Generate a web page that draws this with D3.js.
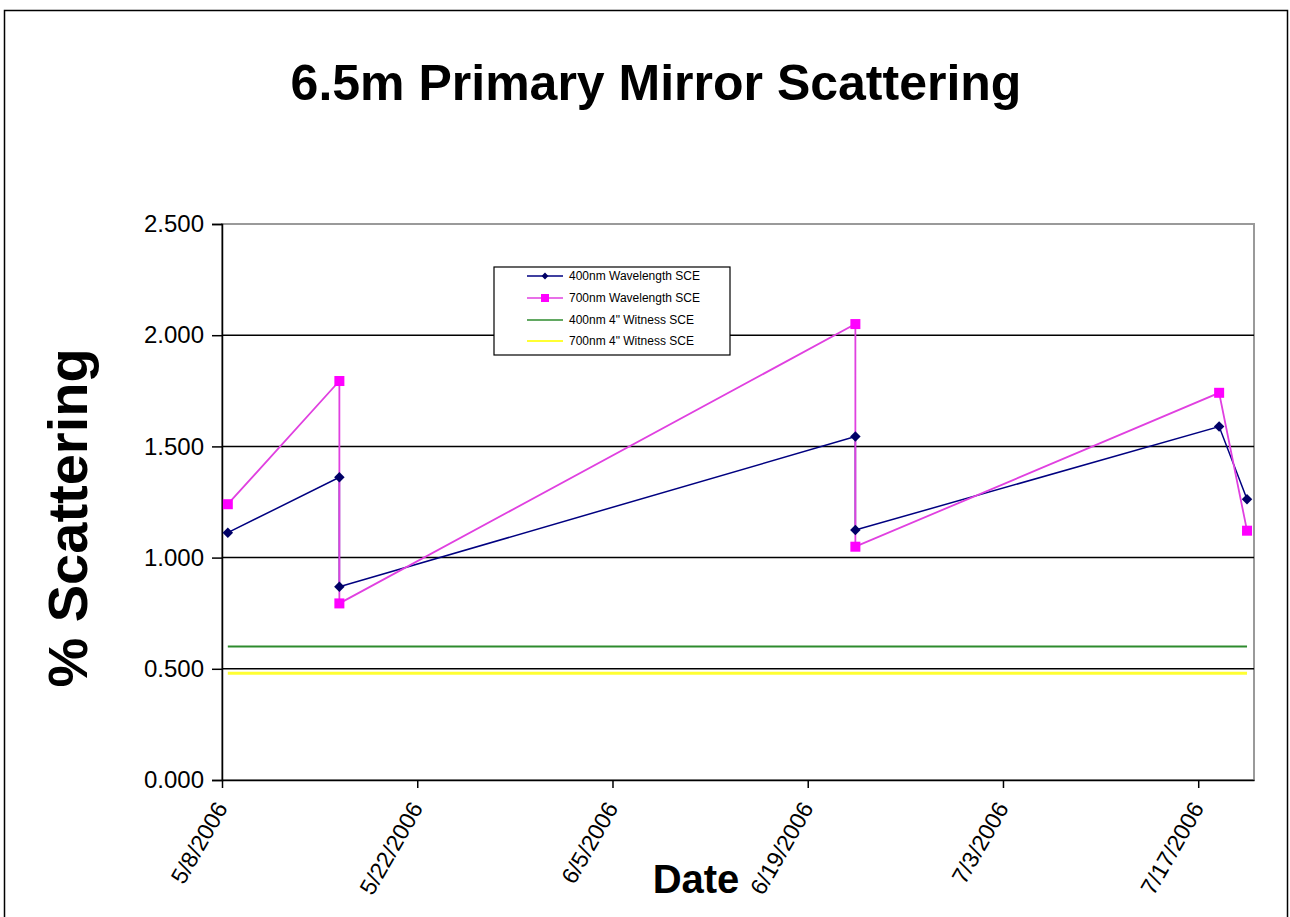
<!DOCTYPE html>
<html>
<head>
<meta charset="utf-8">
<script src="https://cdn.jsdelivr.net/npm/d3@7"></script>
<style>
  body { margin: 0; background: #fff; }
  svg { display: block; }
  text { font-family: Arial, "Liberation Sans", sans-serif; }
</style>
</head>
<body>
<svg id="chart" width="1290" height="917"></svg>
<script>
// ---- data ----
const dates = ["2006-05-08T10:00", "2006-05-16T10:00", "2006-05-16T10:00", "2006-06-22T10:00", "2006-06-22T10:00", "2006-07-18T12:00", "2006-07-20T12:00"];
const sce400 = [1.112, 1.361, 0.869, 1.544, 1.124, 1.589, 1.262];
const sce700 = [1.240, 1.794, 0.794, 2.050, 1.049, 1.741, 1.121];
const witness400 = 0.60;
const witness700 = 0.48;
const xTickDates = ["2006-05-08", "2006-05-22", "2006-06-05", "2006-06-19", "2006-07-03", "2006-07-17"];
const xDomain = ["2006-05-08", "2006-07-21"];
const yTicks = [0, 0.5, 1.0, 1.5, 2.0, 2.5];
const legendLabels = ["400nm  Wavelength SCE", "700nm  Wavelength SCE", "400nm 4\" Witness SCE", "700nm 4\" Witness SCE"];

const parse = d3.isoParse;
const svg = d3.select("#chart");
const plot = { left: 222, right: 1254, top: 224, bottom: 780 };

const x = d3.scaleTime().domain(xDomain.map(s => parse(s))).range([plot.left, plot.right]);
const y = d3.scaleLinear().domain([0, 2.5]).range([plot.bottom, plot.top]);

// outer border
svg.append("rect").attr("x", 4.5).attr("y", 10.5).attr("width", 1283).attr("height", 930)
  .attr("fill", "#fff").attr("stroke", "#000").attr("stroke-width", 1.5);

// plot area border
svg.append("rect").attr("x", plot.left).attr("y", plot.top)
  .attr("width", plot.right - plot.left).attr("height", plot.bottom - plot.top)
  .attr("fill", "#fff").attr("stroke", "#9a9a9a").attr("stroke-width", 2);

// gridlines
svg.append("g").selectAll("line").data(yTicks.filter(t => t > 0 && t < 2.5)).join("line")
  .attr("x1", plot.left).attr("x2", plot.right)
  .attr("y1", d => y(d)).attr("y2", d => y(d))
  .attr("stroke", "#000").attr("stroke-width", 1.5);

// y axis
const yAxis = d3.axisLeft(y).tickValues(yTicks).tickFormat(d3.format(".3f")).tickSize(10).tickPadding(8);
const gy = svg.append("g").attr("transform", `translate(${plot.left},0)`).call(yAxis);
gy.select(".domain").attr("stroke", "#000").attr("stroke-width", 1.5);
gy.selectAll(".tick line").attr("stroke", "#000").attr("stroke-width", 1.5);
gy.selectAll(".tick text").attr("font-size", 24).attr("fill", "#000")
  .attr("font-family", "Arial, 'Liberation Sans', sans-serif");

// x axis
const xAxis = d3.axisBottom(x).tickValues(xTickDates.map(s => parse(s))).tickFormat(d3.timeFormat("%-m/%-d/%Y")).tickSizeInner(8).tickSizeOuter(0);
const gx = svg.append("g").attr("transform", `translate(0,${plot.bottom})`).call(xAxis);
gx.select(".domain").attr("stroke", "#000").attr("stroke-width", 1.5);
gx.selectAll(".tick line").attr("stroke", "#000").attr("stroke-width", 1.5);
gx.selectAll(".tick text").attr("font-size", 23).attr("fill", "#000")
  .attr("font-family", "Arial, 'Liberation Sans', sans-serif")
  .attr("text-anchor", "end").attr("dy", 0).attr("y", 0)
  .attr("transform", "translate(6,28) rotate(-60)");

// witness lines
const xFirst = x(parse(dates[0])), xLast = x(parse(dates[dates.length - 1]));
svg.append("line").attr("x1", xFirst).attr("x2", xLast)
  .attr("y1", y(witness400)).attr("y2", y(witness400))
  .attr("stroke", "#2e8b2e").attr("stroke-width", 2);
svg.append("line").attr("x1", xFirst).attr("x2", xLast)
  .attr("y1", y(witness700)).attr("y2", y(witness700))
  .attr("stroke", "#ffff33").attr("stroke-width", 3);

// series
const pts400 = dates.map((d, i) => [parse(d), sce400[i]]);
const pts700 = dates.map((d, i) => [parse(d), sce700[i]]);
const line = d3.line().x(d => x(d[0])).y(d => y(d[1]));

svg.append("path").attr("d", line(pts400)).attr("fill", "none")
  .attr("stroke", "#000080").attr("stroke-width", 1.5);
svg.append("path").attr("d", line(pts700)).attr("fill", "none")
  .attr("stroke", "#e040e0").attr("stroke-width", 1.8);

const diamond = d3.symbol().type(d3.symbolDiamond2).size(70);
svg.append("g").selectAll("path").data(pts400).join("path")
  .attr("d", diamond).attr("transform", d => `translate(${x(d[0])},${y(d[1])})`)
  .attr("fill", "#000066");
svg.append("g").selectAll("rect").data(pts700).join("rect")
  .attr("x", d => x(d[0]) - 5).attr("y", d => y(d[1]) - 5)
  .attr("width", 10).attr("height", 10).attr("fill", "#ff00ff");

// legend
const lg = svg.append("g");
lg.append("rect").attr("x", 494).attr("y", 267).attr("width", 236).attr("height", 88)
  .attr("fill", "#fff").attr("stroke", "#000").attr("stroke-width", 1.2);
const legendColors = ["#000080", "#e040e0", "#2e8b2e", "#ffff33"];
const legendWidths = [1.3, 1.3, 1.5, 2];
const rowY = [276, 298, 320, 341];
legendLabels.forEach((lab, i) => {
  lg.append("line").attr("x1", 527).attr("x2", 563).attr("y1", rowY[i]).attr("y2", rowY[i])
    .attr("stroke", legendColors[i]).attr("stroke-width", legendWidths[i]);
  if (i === 0) {
    lg.append("path").attr("d", d3.symbol().type(d3.symbolDiamond2).size(30))
      .attr("transform", `translate(545,${rowY[i]})`).attr("fill", "#000066");
  } else if (i === 1) {
    lg.append("rect").attr("x", 541).attr("y", rowY[i] - 4).attr("width", 8).attr("height", 8)
      .attr("fill", "#ff00ff");
  }
  lg.append("text").attr("x", 569).attr("y", rowY[i]).attr("dy", "0.35em")
    .attr("font-size", 12).attr("fill", "#000").text(lab);
});

// title
svg.append("text").attr("x", 656).attr("y", 100).attr("text-anchor", "middle")
  .attr("font-size", 50).attr("font-weight", "bold").attr("fill", "#000")
  .text("6.5m Primary Mirror Scattering");

// y title
svg.append("text").attr("transform", "translate(87,518) rotate(-90)").attr("text-anchor", "middle")
  .attr("font-size", 56).attr("font-weight", "bold").attr("fill", "#000")
  .text("% Scattering");

// x title
svg.append("text").attr("x", 696).attr("y", 893).attr("text-anchor", "middle")
  .attr("font-size", 40).attr("font-weight", "bold").attr("fill", "#000")
  .text("Date");
</script>
</body>
</html>
